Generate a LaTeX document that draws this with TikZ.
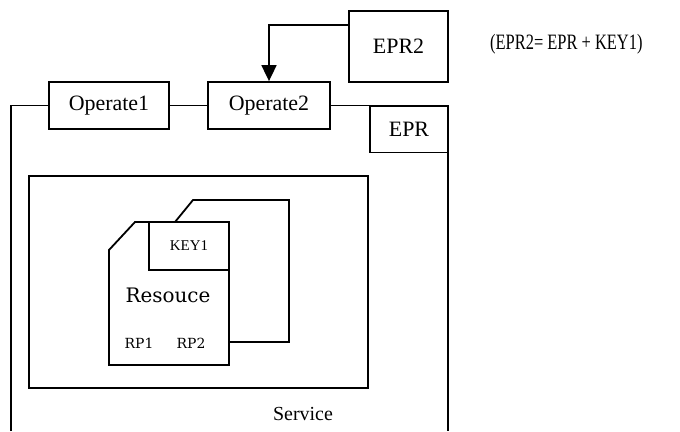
\documentclass[tikz,border=0pt]{standalone}
\usepackage{fontspec}
\setmainfont{Liberation Serif}
\newfontfamily\docfont{DejaVu Serif}
\usetikzlibrary{arrows.meta}
\tikzset{
  line/.style={line width=1.8bp, line join=miter},
  opbox/.style={line, draw, rectangle, inner sep=0pt, minimum height=47bp,
    font=\fontsize{22}{24}\selectfont},
  tag/.style={inner sep=0pt, font=\fontsize{22}{24}\selectfont},
  doctext/.style={inner sep=0pt, font=\docfont},
}
\begin{document}
\begin{tikzpicture}[x=1bp,y=-1bp]
\useasboundingbox (0,0) rectangle (680,431);

% operations on the service boundary
\node[opbox, minimum width=120bp] (op1) at (109,105.5) {Operate1};
\node[opbox, minimum width=122bp] (op2) at (269,105.5) {Operate2};
\node[opbox, minimum width=99bp, minimum height=71bp] (epr2) at (398.5,46.5) {EPR2};
\node[opbox, minimum width=78bp, minimum height=46bp] (epr) at (409,129.5) {EPR};
\node[tag, anchor=west] (eq) at (490,44) {\scalebox{0.75}[1]{(EPR2= EPR + KEY1)}};

% service boundary, open at the bottom
\coordinate (sbl) at (11,431);
\coordinate (sbr) at (448,431);
\draw[line] (sbl) -- (op1.west -| sbl) -- (op1.west);
\draw[line] (op1.east) -- (op2.west);
\draw[line] (op2.east) -- (op2.east -| sbr) -- (sbr);

% EPR2 is handed to Operate2
\draw[line, -{Triangle[length=16bp,width=15bp]}]
  ([yshift=21.5bp]epr2.west) -| (op2.north);

% inner container
\node[line, draw, rectangle, minimum width=339bp, minimum height=212bp] (inner) at (198.5,282) {};
\node[tag, font=\fontsize{20}{22}\selectfont] (svc) at (303,414) {Service};

% resource documents
\coordinate (fa) at (109,250);
\coordinate (fb) at (135,222);
\coordinate (fc) at (229,222);
\coordinate (fd) at (229,365);
\coordinate (fe) at (109,365);
\coordinate (ba) at (175,222);
\coordinate (bb) at (193,200);
\coordinate (bc) at (289,200);
\coordinate (bd) at (289,342);
\coordinate (be) at (229,342);
\draw[line] (ba) -- (bb) -- (bc) -- (bd) -- (be);
\draw[line, fill=white] (fa) -- (fb) -- (fc) -- (fd) -- (fe) -- cycle;
\node[line, draw, rectangle, minimum width=80bp, minimum height=48bp,
  tag, font=\fontsize{15}{17}\selectfont] (key) at (189,246) {KEY1};
\node[doctext, font=\docfont\fontsize{20}{22}\selectfont] (res) at (168,295) {Resouce};
\node[doctext, font=\docfont\fontsize{14}{16}\selectfont] (rp1) at (139,343) {RP1};
\node[doctext, font=\docfont\fontsize{14}{16}\selectfont] (rp2) at (191,343) {RP2};
\end{tikzpicture}
\end{document}
